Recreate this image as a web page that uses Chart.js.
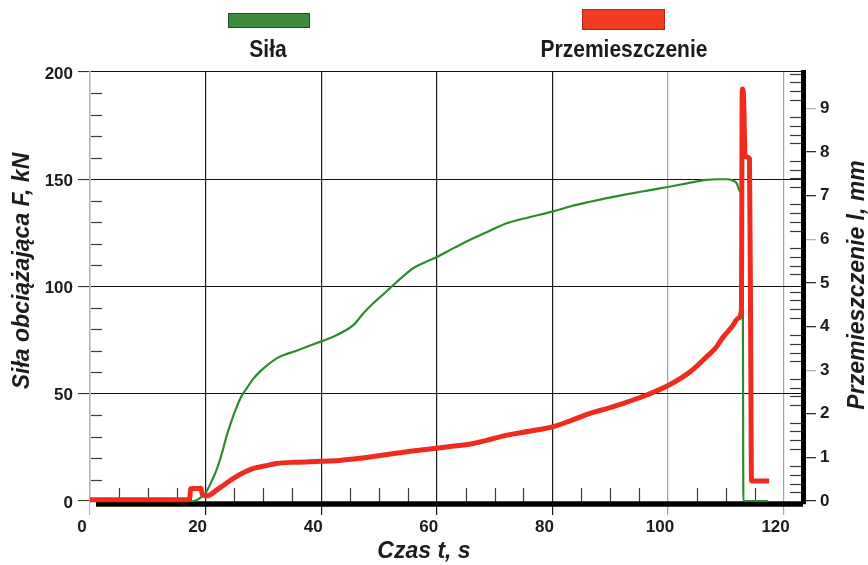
<!DOCTYPE html>
<html><head><meta charset="utf-8">
<script src="https://cdn.jsdelivr.net/npm/chart.js@4.4.1/dist/chart.umd.min.js"></script>
<style>html,body{margin:0;padding:0;background:#fff}canvas{display:block}</style>
</head><body>
<canvas id="c" width="868" height="565"></canvas>
<script>
// ---- texts ----
const seriesNames = ['Siła', 'Przemieszczenie'];
const xTitle = 'Czas t, s';
const yLeftTitle = 'Siła obciążająca F, kN';
const yRightTitle = 'Przemieszczenie l, mm';

// ---- tick values ----
const xTickValues = [0, 20, 40, 60, 80, 100, 120];
const yLeftTickValues = [0, 50, 100, 150, 200];
const yRightTickValues = [0, 1, 2, 3, 4, 5, 6, 7, 8, 9];

// ---- Siła (force, kN) vs time (s) ----
const forceTime = [0, 17.9, 18.8, 20.0, 21.0, 21.9, 22.8, 23.6, 24.5, 25.4, 26.2, 27.1, 28.2, 29.4, 30.8, 32.3, 33.7, 35.2, 37.5, 39.9, 42.0, 43.8, 45.6, 47.3, 49.0, 50.8, 52.5, 54.2, 55.9, 57.9, 59.9, 63.0, 66.3, 69.2, 72.1, 76.0, 80.0, 83.2, 86.5, 89.4, 92.3, 96.2, 100.2, 103.5, 106.7, 108.5, 110.2, 111.2, 111.9, 112.5, 112.9, 113.05, 117.3];
const forceKN   = [0, 0, 1.0, 3.8, 9.0, 14.5, 22.0, 30.0, 37.5, 44.0, 48.8, 52.5, 56.8, 60.3, 63.6, 66.5, 68.2, 69.6, 71.9, 74.3, 76.5, 78.9, 82.1, 87.5, 92.2, 96.5, 100.7, 104.8, 108.5, 111.2, 113.6, 118.0, 122.5, 126.0, 129.5, 132.3, 134.9, 137.4, 139.5, 141.2, 142.7, 144.6, 146.5, 148.2, 149.7, 150.0, 150.0, 149.4, 148.1, 144.2, 141.0, 0, 0];

// ---- Przemieszczenie (displacement, mm) vs time (s) ----
const dispTime = [0, 17.2, 17.45, 19.2, 19.45, 20.0, 20.6, 21.9, 23.3, 24.8, 26.5, 28.3, 30.5, 32.3, 35.5, 39.9, 43.1, 46.7, 50.5, 54.8, 59.9, 63.0, 66.3, 69.2, 72.1, 76.0, 80.0, 83.3, 86.5, 89.4, 92.3, 96.3, 100.2, 103.9, 106.7, 108.3, 109.6, 111.0, 112.2, 112.7, 112.85, 113.05, 113.35, 114.1, 114.3, 114.45, 117.5];
const dispMM   = [0.03, 0.03, 0.28, 0.29, 0.14, 0.12, 0.13, 0.25, 0.38, 0.52, 0.65, 0.75, 0.81, 0.86, 0.89, 0.91, 0.93, 0.98, 1.05, 1.13, 1.21, 1.26, 1.32, 1.41, 1.51, 1.60, 1.70, 1.85, 2.01, 2.12, 2.24, 2.43, 2.66, 2.97, 3.31, 3.52, 3.77, 3.98, 4.19, 4.38, 9.45, 9.35, 7.90, 7.85, 3.90, 0.46, 0.46];

const GREEN = '#2f8a2f';
const RED = '#ee2b1e';
const FONT = "'Liberation Sans', Arial, sans-serif";
const TEXT = '#1c1c1c';

const leftMin = -1.4, leftMax = 200;
const mmPerKN = 9.838 / 200;

function line(ctx, x1, y1, x2, y2) { ctx.beginPath(); ctx.moveTo(x1, y1); ctx.lineTo(x2, y2); ctx.stroke(); }

const decor = {
  id: 'decor',
  beforeDatasetsDraw(chart) {
    const { ctx, chartArea: a, scales: { x, y, y1 } } = chart;
    ctx.save();
    ctx.lineWidth = 1.2;
    ctx.strokeStyle = '#3a3a3a';
    for (let v = 10; v < 200; v += 10) {
      if (v % 50 === 0) continue;
      const py = Math.round(y.getPixelForValue(v)) + 0.5;
      line(ctx, a.left + 1, py, a.left + 12, py);
    }
    for (let v = 5; v < 123; v += 5) {
      if (v % 20 === 0) continue;
      const px = Math.round(x.getPixelForValue(v)) + 0.5;
      line(ctx, px, a.bottom - 2, px, a.bottom - 16);
    }
    for (let k = 1; k <= 49; k++) {
      if (k % 5 === 0) continue;
      const py = Math.round(y1.getPixelForValue(k * 0.2)) + 0.5;
      line(ctx, a.right - 13, py, a.right - 2, py);
    }
    // thick bottom axis line
    ctx.strokeStyle = '#000';
    ctx.lineWidth = 5.5;
    line(ctx, a.left + 6, a.bottom, a.right, a.bottom);
    ctx.restore();
  },
  afterDraw(chart) {
    const { ctx } = chart;
    ctx.save();
    // legend
    ctx.lineWidth = 1;
    ctx.fillStyle = '#3d8c3d'; ctx.strokeStyle = '#1f4f1f';
    ctx.fillRect(228, 13, 82, 15); ctx.strokeRect(228.5, 13.5, 81, 14);
    ctx.fillStyle = '#f23c24'; ctx.strokeStyle = '#a8281a';
    ctx.fillRect(582, 9, 83, 21); ctx.strokeRect(582.5, 9.5, 82, 20);
    ctx.fillStyle = TEXT;
    ctx.font = 'bold 24px ' + FONT;
    ctx.textAlign = 'center'; ctx.textBaseline = 'middle';
    ctx.save(); ctx.translate(268, 50); ctx.scale(0.875, 1); ctx.fillText(seriesNames[0], 0, 0); ctx.restore();
    ctx.save(); ctx.translate(624, 50); ctx.scale(0.875, 1); ctx.fillText(seriesNames[1], 0, 0); ctx.restore();
    // axis titles
    ctx.font = 'italic bold 23px ' + FONT;
    ctx.fillText(xTitle, 424, 552);
    ctx.save(); ctx.translate(23, 271); ctx.rotate(-Math.PI / 2); ctx.fillText(yLeftTitle, 0, 0); ctx.restore();
    ctx.save(); ctx.translate(858, 285); ctx.rotate(-Math.PI / 2); ctx.fillText(yRightTitle, 0, 0); ctx.restore();
    ctx.restore();
  }
};

const tickFont = { family: FONT, size: 17, weight: 'bold' };

new Chart(document.getElementById('c'), {
  type: 'line',
  data: {
    datasets: [
      {
        label: seriesNames[1],
        data: dispTime.map((t, i) => ({ x: t, y: dispMM[i] })),
        yAxisID: 'y1', borderColor: RED, borderWidth: 5, cubicInterpolationMode: 'monotone', order: 1
      },
      {
        label: seriesNames[0],
        data: forceTime.map((t, i) => ({ x: t, y: forceKN[i] })),
        yAxisID: 'y', borderColor: GREEN, borderWidth: 2.2, cubicInterpolationMode: 'monotone', order: 2
      }
    ]
  },
  options: {
    responsive: false, animation: false, devicePixelRatio: 1,
    elements: { point: { radius: 0 } },
    layout: { padding: { top: 72, left: 0, right: 0, bottom: 0 } },
    plugins: { legend: { display: false }, tooltip: { enabled: false } },
    scales: {
      x: {
        type: 'linear', min: 0, max: 123.36,
        afterBuildTicks: s => { s.ticks = xTickValues.map(v => ({ value: v })); },
        afterFit: s => { s.height = 61; },
        border: { display: false },
        grid: {
          color: c => c.tick.value === 0 ? '#a8b8c8' : (c.tick.value >= 100 ? '#98a6b6' : '#1a1a1a'),
          lineWidth: 1.2, tickLength: 11
        },
        ticks: { font: tickFont, color: TEXT, padding: 2, labelOffset: -8, autoSkip: false, maxRotation: 0 }
      },
      y: {
        position: 'left', min: leftMin, max: leftMax,
        afterBuildTicks: s => { s.ticks = yLeftTickValues.map(v => ({ value: v })); },
        afterFit: s => { s.width = 90; },
        border: { color: '#a8b8c8', width: 1.5 },
        grid: {
          color: c => c.tick.value === 0 ? 'rgba(0,0,0,0)' : '#111',
          tickColor: '#333', lineWidth: 1.1, tickLength: 12
        },
        ticks: { font: tickFont, color: TEXT, padding: 5, labelOffset: 2 }
      },
      y1: {
        position: 'right', min: leftMin * mmPerKN, max: leftMax * mmPerKN,
        afterBuildTicks: s => { s.ticks = yRightTickValues.map(v => ({ value: v })); },
        afterFit: s => { s.width = 65; },
        border: { color: '#000', width: 5 },
        grid: {
          drawOnChartArea: false, tickLength: 13, lineWidth: 1.3,
          color: c => (c.tick.value % 3 === 0 && c.tick.value > 0) ? '#a8b8c8' : '#333'
        },
        ticks: { font: tickFont, color: TEXT, padding: 4 }
      }
    }
  },
  plugins: [decor]
});
</script>
</body></html>
